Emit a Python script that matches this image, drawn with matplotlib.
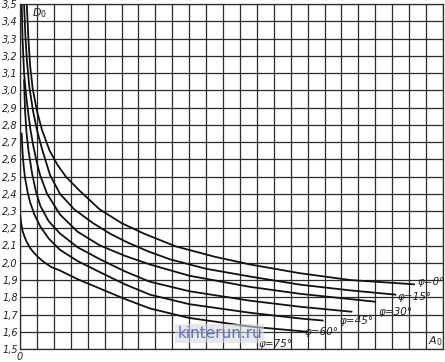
import matplotlib
matplotlib.use('Agg')
import matplotlib.pyplot as plt
from matplotlib.ticker import MultipleLocator, FuncFormatter

# values (A0 in grid cells, D0)
phi_labels = ['φ=0°', 'φ=15°', 'φ=30°', 'φ=45°', 'φ=60°', 'φ=75°']

a0_phi0 = [0.40, 0.50, 0.60, 0.75, 1.00, 1.30, 1.75, 2.20, 2.70, 3.50, 4.70, 6.00, 7.30,
           9.20, 11.5, 13.6, 16.5, 19.5, 23.3]
d0_phi0 = [3.50, 3.29, 3.14, 3.01, 2.88, 2.77, 2.65, 2.57, 2.50, 2.42, 2.31, 2.23, 2.17,
           2.095, 2.035, 1.99, 1.94, 1.90, 1.875]

a0_phi15 = [0.24, 0.32, 0.41, 0.55, 0.77, 1.00, 1.30, 1.77, 2.36, 3.20, 4.31, 5.30, 6.30,
            7.60, 8.86, 11.0, 13.6, 16.55, 19.5, 22.2]
d0_phi15 = [3.50, 3.31, 3.17, 3.02, 2.88, 2.77, 2.66, 2.51, 2.40, 2.31, 2.23, 2.17, 2.12,
            2.065, 2.02, 1.965, 1.92, 1.873, 1.84, 1.815]

a0_phi30 = [0.10, 0.15, 0.24, 0.35, 0.47, 0.62, 0.80, 1.00, 1.18, 1.60, 2.36, 3.40, 4.73,
            6.20, 7.68, 10.0, 13.6, 16.55, 21.0]
d0_phi30 = [3.50, 3.30, 3.10, 2.98, 2.88, 2.77, 2.67, 2.58, 2.51, 2.40, 2.28, 2.18, 2.10,
            2.04, 1.99, 1.925, 1.86, 1.82, 1.774]

a0_phi45 = [0.24, 0.27, 0.30, 0.38, 0.50, 0.71, 0.95, 1.20, 1.70, 2.36, 3.40, 4.73, 6.20,
            7.68, 10.0, 13.6, 16.55, 19.6]
d0_phi45 = [3.06, 2.96, 2.88, 2.76, 2.65, 2.52, 2.41, 2.33, 2.24, 2.17, 2.09, 2.02, 1.95,
            1.89, 1.835, 1.78, 1.745, 1.716]

a0_phi60 = [0.10, 0.14, 0.18, 0.24, 0.30, 0.45, 0.60, 0.85, 1.20, 1.70, 2.36, 3.40, 4.73,
            6.20, 7.68, 10.0, 13.6, 16.55, 17.9]
d0_phi60 = [2.75, 2.66, 2.60, 2.54, 2.49, 2.41, 2.35, 2.28, 2.21, 2.14, 2.075, 2.01, 1.945,
            1.875, 1.815, 1.76, 1.71, 1.677, 1.665]

a0_phi75 = [0.0, 0.07, 0.15, 0.27, 0.40, 0.60, 0.80, 1.10, 1.40, 1.85, 2.36, 3.40, 4.73,
            6.20, 7.68, 10.0, 13.6, 17.0]
d0_phi75 = [2.29, 2.23, 2.185, 2.15, 2.12, 2.085, 2.06, 2.03, 2.005, 1.975, 1.955, 1.905,
            1.85, 1.79, 1.735, 1.68, 1.63, 1.60]

# where the curve names sit (left edge, centre line)
label_a0 = [23.5, 22.3, 21.2, 18.9, 16.8, 14.1]
label_d0 = [1.887, 1.80, 1.716, 1.66, 1.60, 1.53]

GRID = '#2b2b2b'


def make_nomogram(name: str):
    fig = plt.figure(figsize=(4.45, 3.62), dpi=100)
    ax = fig.add_axes([20 / 445, 13 / 362, 423 / 445, 345 / 362])

    curves = [(a0_phi0, d0_phi0), (a0_phi15, d0_phi15), (a0_phi30, d0_phi30),
              (a0_phi45, d0_phi45), (a0_phi60, d0_phi60), (a0_phi75, d0_phi75)]
    for (a0, d0), lab, lx, ly in zip(curves, phi_labels, label_a0, label_d0):
        ax.plot(a0, d0, color='#111111', lw=1.3, solid_capstyle='round',
                solid_joinstyle='round')
        ax.text(lx, ly, lab, fontsize=7.5, style='italic', color='#222222',
                ha='left', va='center')

    ax.set_xlim(0, 25)
    ax.set_ylim(1.5, 3.5)
    ax.xaxis.set_major_locator(MultipleLocator(1))
    ax.yaxis.set_major_locator(MultipleLocator(0.1))
    ax.yaxis.set_major_formatter(FuncFormatter(lambda v, p: f'{v:.1f}'.replace('.', ',')))
    ax.set_xticklabels([])
    ax.tick_params(length=0, labelsize=7, pad=1.5, colors='#222222')
    for lab in ax.get_yticklabels():
        lab.set_fontstyle('italic')
    ax.grid(True, color=GRID, lw=0.9)
    for s in ax.spines.values():
        s.set_color(GRID)
        s.set_linewidth(0.9)

    ax.text(0.7, 3.45, r'$D_0$', fontsize=8, ha='left', va='center', color='#222222')
    ax.text(24.55, 1.545, r'$A_0$', fontsize=8, ha='center', va='center', color='#222222')
    ax.text(0, 1.483, '0', fontsize=7, style='italic', ha='center', va='top',
            color='#222222')

    # watermark of the source page
    ax.text(11.8, 1.59, 'kinterun.ru', fontsize=11, color='#5872c4',
            ha='center', va='center',
            bbox=dict(boxstyle='square,pad=0.15', facecolor='#d9d9de',
                      edgecolor='none', alpha=0.6))

    fig.savefig(name, dpi=100)


def main():
    make_nomogram('out.png')


if __name__ == "__main__":
    main()
